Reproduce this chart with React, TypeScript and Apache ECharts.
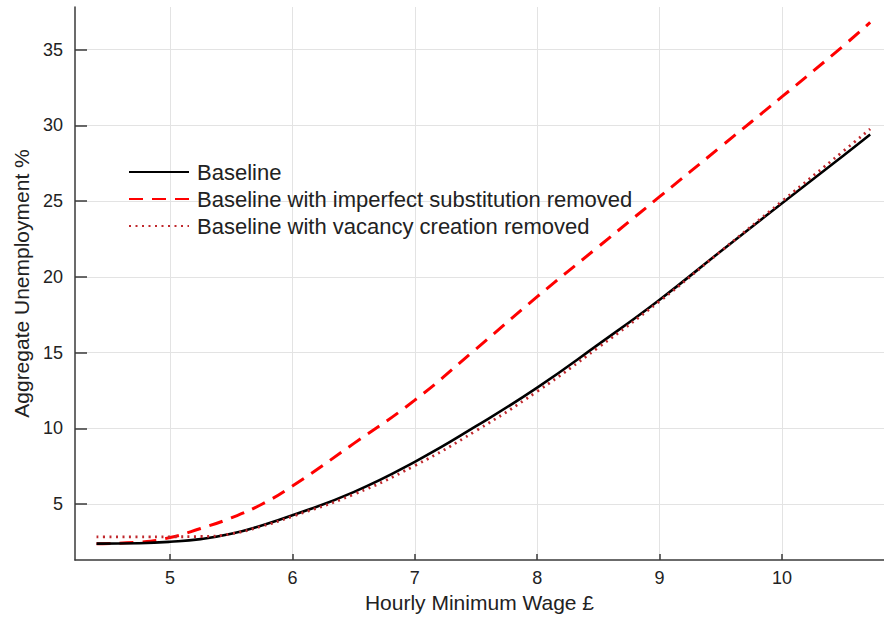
import React, { useEffect, useRef } from "react";
import * as echarts from "echarts";

const wage = [4.4, 4.75, 5.0, 5.25, 5.5, 5.75, 6.0, 6.5, 7.0, 7.5, 8.0, 8.5, 9.0, 9.5, 10.0, 10.5, 10.72];
const baseline = [2.4, 2.43, 2.52, 2.7, 3.05, 3.6, 4.27, 5.8, 7.8, 10.15, 12.7, 15.55, 18.5, 21.7, 24.87, 28.0, 29.4];
const noImperfectSub = [2.4, 2.5, 2.8, 3.4, 4.1, 5.0, 6.2, 9.0, 11.87, 15.25, 18.7, 22.0, 25.3, 28.6, 31.9, 35.25, 36.8];
const noVacancyCreation = [2.84, 2.84, 2.85, 2.87, 3.05, 3.55, 4.2, 5.65, 7.55, 9.85, 12.45, 15.35, 18.4, 21.7, 25.0, 28.3, 29.77];
const xTicks = [5, 6, 7, 8, 9, 10];
const yTicks = [5, 10, 15, 20, 25, 30, 35];
const seriesNames = [
  "Baseline",
  "Baseline with imperfect substitution removed",
  "Baseline with vacancy creation removed",
];

const FONT = "Liberation Sans";

export default function App() {
  const ref = useRef<HTMLDivElement>(null);
  useEffect(() => {
    if (!ref.current) return;
    const chart = echarts.init(ref.current, undefined, { renderer: "svg" });
    const pts = (ys: number[]) => wage.map((x, i) => [x, ys[i]]);
    const axisLineStyle = { color: "#3a3a3a", width: 1.5 };
    chart.setOption({
      animation: false,
      backgroundColor: "#ffffff",
      textStyle: { fontFamily: FONT },
      grid: { left: 75, right: 0, top: 7, bottom: 59, containLabel: false },
      legend: {
        orient: "vertical",
        left: 128,
        top: 161,
        padding: 0,
        itemWidth: 60,
        itemHeight: 21,
        itemGap: 5,
        itemStyle: { color: "rgba(0,0,0,0)", borderWidth: 0, opacity: 0 },
        textStyle: { fontFamily: FONT, fontSize: 22, color: "#222", lineHeight: 21, padding: [0, 0, 0, 3] },
        data: seriesNames,
      },
      xAxis: {
        type: "value",
        min: 4.224,
        max: 10.833,
        name: "Hourly Minimum Wage £",
        nameLocation: "middle",
        nameGap: 32,
        nameTextStyle: { fontFamily: FONT, fontSize: 21, color: "#222" },
        axisLine: { show: true, onZero: false, lineStyle: axisLineStyle },
        axisTick: { show: true, inside: true, length: 6, customValues: xTicks, lineStyle: axisLineStyle },
        axisLabel: { customValues: xTicks, fontFamily: FONT, fontSize: 18, color: "#222", margin: 9 },
        splitLine: { show: true, lineStyle: { color: "#e3e3e3", width: 1 } },
      },
      yAxis: {
        type: "value",
        min: 1.32,
        max: 37.82,
        name: "Aggregate Unemployment %",
        nameLocation: "middle",
        nameGap: 43,
        nameRotate: 90,
        nameTextStyle: { fontFamily: FONT, fontSize: 21, color: "#222" },
        axisLine: { show: true, onZero: false, lineStyle: axisLineStyle },
        axisTick: { show: true, inside: true, length: 12, customValues: yTicks, lineStyle: axisLineStyle },
        axisLabel: { customValues: yTicks, fontFamily: FONT, fontSize: 18, color: "#222", margin: 12 },
        splitLine: { show: true, lineStyle: { color: "#e3e3e3", width: 1 } },
      },
      series: [
        {
          name: seriesNames[0],
          type: "line",
          data: pts(baseline),
          smooth: 0.5,
          symbol: "none",
          z: 3,
          lineStyle: { color: "#000000", width: 2.6 },
          itemStyle: { color: "#000000" },
        },
        {
          name: seriesNames[1],
          type: "line",
          data: pts(noImperfectSub),
          smooth: 0.5,
          symbol: "none",
          z: 2,
          lineStyle: { color: "#ff0000", width: 3, type: [14, 9] },
          itemStyle: { color: "#ff0000" },
        },
        {
          name: seriesNames[2],
          type: "line",
          data: pts(noVacancyCreation),
          smooth: 0.5,
          symbol: "none",
          z: 4,
          lineStyle: { color: "#c0282d", width: 2.8, type: [2, 4.5] },
          itemStyle: { color: "#c0282d" },
        },
      ],
    });
    return () => chart.dispose();
  }, []);
  return <div ref={ref} style={{ position: "absolute", left: 0, top: 0, width: 884, height: 619 }} />;
}
